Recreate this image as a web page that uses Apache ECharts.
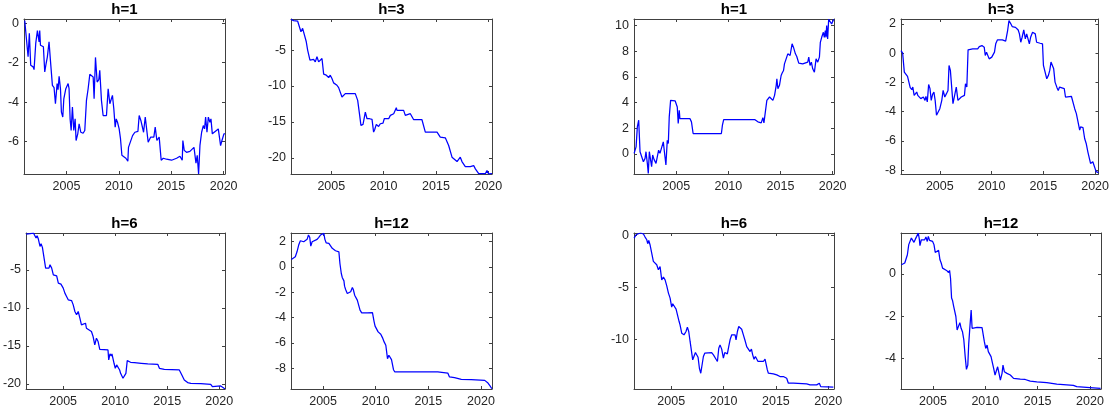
<!DOCTYPE html>
<html>
<head>
<meta charset="utf-8">
<title>Cumulative differences by horizon</title>
<script src="https://cdn.jsdelivr.net/npm/echarts@6/dist/echarts.min.js"></script>
<style>
  html, body { margin: 0; padding: 0; background: #ffffff; }
  #chart { width: 1112px; height: 412px; }
</style>
</head>
<body>
<div id="chart"></div>
<script>
// Horizon labels for the four panels of each block
const horizonTitles = ['h=1', 'h=3', 'h=6', 'h=12'];

// Year tick labels shared by every panel
const yearTicks = [2005, 2010, 2015, 2020];

// ---- Block A (left) ----
const yearsA1 = [2001.02,2001.15,2001.34,2001.46,2001.59,2001.82,2001.91,2002.07,2002.23,2002.39,2002.45,2002.52,2002.71,2002.80,2002.93,2003.06,2003.18,2003.34,2003.47,2003.66,2003.82,2003.95,2004.11,2004.20,2004.30,2004.43,2004.52,2004.65,2004.75,2004.94,2005.16,2005.25,2005.35,2005.45,2005.57,2005.70,2005.83,2005.92,2006.08,2006.21,2006.37,2006.59,2006.75,2006.91,2007.07,2007.23,2007.42,2007.55,2007.64,2007.77,2007.93,2008.09,2008.18,2008.34,2008.50,2008.82,2008.98,2009.14,2009.30,2009.39,2009.52,2009.65,2009.75,2009.87,2010.03,2010.16,2010.29,2010.48,2010.67,2010.86,2010.92,2011.11,2011.31,2011.53,2011.82,2011.94,2012.10,2012.23,2012.36,2012.52,2012.80,2013.03,2013.34,2013.47,2013.63,2013.85,2014.04,2014.24,2014.55,2015.03,2015.51,2015.83,2016.05,2016.11,2016.24,2016.46,2016.78,2016.94,2017.17,2017.36,2017.48,2017.61,2017.74,2017.90,2018.06,2018.18,2018.28,2018.41,2018.54,2018.69,2018.79,2018.92,2019.49,2019.71,2019.84,2020.03,2020.12];
const valuesA1 = [0.14,0.2,-1.70,-0.51,-2.13,-2.21,-2.35,-1.02,-0.37,-0.94,-0.37,-1.11,-1.02,-1.19,-2.47,-2.04,-1.70,-0.94,-1.87,-3.15,-3.27,-4.08,-3.06,-3.37,-2.69,-3.32,-4.51,-4.76,-3.83,-3.32,-3.06,-3.32,-4.85,-5.44,-4.25,-5.44,-4.85,-5.95,-5.61,-5.10,-5.53,-5.58,-5.44,-3.91,-3.32,-2.59,-2.69,-2.72,-3.83,-1.73,-2.98,-2.86,-2.38,-3.91,-4.68,-4.68,-3.32,-4.08,-4.00,-3.66,-4.34,-5.27,-4.85,-5.02,-5.36,-5.87,-6.70,-6.80,-6.85,-7.00,-6.30,-6.35,-5.70,-5.53,-5.49,-4.68,-4.93,-4.85,-5.53,-4.76,-6.04,-5.78,-5.78,-5.27,-5.95,-5.78,-6.95,-6.85,-6.90,-6.95,-6.85,-6.75,-6.95,-5.95,-6.45,-6.55,-6.50,-6.60,-6.30,-7.10,-6.70,-7.65,-6.20,-5.53,-5.19,-5.36,-4.76,-5.53,-4.76,-5.02,-4.85,-5.61,-5.36,-6.21,-5.95,-5.61,-5.60];

const yearsA3 = [2001.15,2001.40,2001.56,2001.78,2001.97,2002.10,2002.26,2002.42,2002.61,2002.74,2002.83,2002.96,2003.15,2003.31,2003.47,2003.63,2003.79,2003.95,2004.11,2004.20,2004.27,2004.52,2004.75,2004.90,2005.06,2005.22,2005.54,2005.70,2005.86,2006.02,2006.18,2006.34,2006.50,2006.82,2007.29,2007.39,2007.52,2007.71,2007.83,2008.03,2008.25,2008.41,2008.66,2008.89,2009.04,2009.14,2009.30,2009.52,2009.68,2009.94,2010.06,2010.25,2010.48,2010.64,2010.80,2010.96,2011.11,2011.21,2011.27,2011.43,2011.91,2012.07,2012.23,2012.55,2012.71,2012.87,2013.34,2013.66,2013.98,2015.10,2015.41,2015.89,2016.21,2016.53,2017.01,2017.32,2017.48,2017.64,2017.80,2018.28,2018.60,2018.76,2019.08,2019.71,2019.87,2020.03,2020.35];
const valuesA3 = [-0.72,-0.90,-1.04,-0.95,-1.04,-2.44,-1.97,-2.21,-3.84,-5.00,-4.77,-6.40,-6.40,-6.30,-6.63,-5.93,-6.63,-6.40,-6.16,-6.30,-8.35,-8.49,-8.82,-8.49,-8.96,-9.56,-9.89,-10.22,-10.36,-11.52,-11.29,-11.05,-10.96,-11.05,-11.05,-10.96,-11.99,-14.08,-15.48,-15.34,-13.62,-14.55,-14.55,-14.64,-16.41,-16.09,-15.34,-15.62,-15.25,-15.15,-14.55,-14.41,-14.55,-14.08,-14.32,-13.85,-13.62,-13.01,-13.38,-13.38,-13.38,-14.08,-13.85,-13.85,-14.08,-14.69,-14.69,-14.69,-16.41,-16.41,-17.11,-17.20,-18.27,-19.90,-20.51,-19.90,-20.51,-20.28,-21.21,-21.21,-21.07,-21.53,-22.20,-22.20,-21.77,-22.22,-22.20];

const yearsA6 = [2001.45,2001.83,2002.15,2002.31,2002.40,2002.50,2002.62,2002.78,2002.88,2003.01,2003.17,2003.32,2003.42,2003.64,2003.74,2003.90,2004.06,2004.22,2004.38,2004.54,2004.79,2005.01,2005.17,2005.33,2005.49,2005.81,2005.97,2006.13,2006.29,2006.45,2006.61,2006.76,2006.92,2007.15,2007.24,2007.40,2007.72,2007.88,2008.04,2008.20,2008.36,2008.52,2008.68,2009.31,2009.38,2009.50,2009.63,2009.69,2009.89,2010.01,2010.14,2010.27,2010.43,2010.52,2010.75,2010.90,2011.03,2011.16,2011.29,2011.48,2011.86,2012.50,2013.13,2014.09,2014.25,2014.72,2016.16,2016.32,2016.64,2016.96,2017.27,2018.23,2019.18,2019.34,2019.50,2020.14,2020.46,2020.55];
const valuesA6 = [-0.31,-0.26,-0.18,-0.26,-0.83,-0.53,-0.96,-1.93,-1.58,-2.06,-2.15,-4.78,-4.69,-4.78,-4.34,-4.78,-5.66,-5.53,-5.79,-6.75,-6.89,-7.41,-8.07,-8.51,-8.95,-9.04,-9.61,-10.48,-10.92,-10.48,-11.36,-12.24,-12.37,-12.02,-12.68,-12.89,-13.11,-13.77,-14.87,-13.99,-14.43,-15.44,-15.53,-15.53,-16.84,-16.05,-16.32,-16.05,-17.28,-17.94,-17.50,-17.72,-18.16,-18.60,-19.25,-19.25,-18.60,-16.93,-16.84,-17.15,-17.19,-17.28,-17.37,-17.41,-17.94,-18.07,-18.16,-18.60,-19.47,-19.82,-19.91,-19.96,-20.04,-20.35,-20.13,-20.26,-20.57,-20.62];

const yearsA12 = [2001.98,2002.14,2002.36,2002.52,2002.68,2002.84,2003.00,2003.16,2003.32,2003.48,2003.61,2003.73,2003.83,2003.96,2004.11,2004.43,2004.59,2004.69,2004.75,2004.91,2005.07,2005.17,2005.29,2005.55,2005.64,2005.87,2006.18,2006.34,2006.50,2006.60,2006.73,2006.82,2006.98,2007.04,2007.14,2007.30,2007.46,2007.62,2007.78,2007.87,2008.00,2008.13,2008.25,2008.35,2008.51,2008.67,2009.21,2009.69,2009.85,2009.94,2010.10,2010.23,2010.32,2010.48,2010.64,2010.80,2010.96,2011.12,2011.25,2011.38,2011.50,2011.69,2011.82,2015.90,2016.85,2017.01,2017.49,2018.13,2019.08,2020.36,2020.67,2020.83,2021.04];
const valuesA12 = [0.58,0.53,0.79,1.18,1.71,2.05,2.11,1.97,1.89,2.16,2.50,2.32,1.63,1.97,2.11,2.16,2.32,2.24,2.50,2.58,2.63,2.16,1.89,1.84,1.71,1.45,1.26,1.32,1.18,0.26,-0.53,-0.84,-1.11,-1.53,-1.79,-2.11,-2.05,-1.97,-1.63,-1.79,-2.24,-2.24,-2.63,-2.76,-3.42,-3.63,-3.63,-3.61,-4.34,-4.68,-4.68,-5.13,-5.26,-5.32,-5.58,-5.92,-6.18,-7.24,-6.97,-7.11,-7.32,-8.11,-8.29,-8.29,-8.37,-8.68,-8.74,-8.87,-8.89,-8.95,-9.16,-9.34,-9.61];

// ---- Block B (right) ----
const yearsB1 = [2000.96,2001.05,2001.15,2001.27,2001.40,2001.53,2001.69,2001.85,2002.01,2002.10,2002.23,2002.32,2002.42,2002.55,2002.64,2002.74,2002.87,2003.06,2003.18,2003.31,2003.44,2003.60,2003.76,2003.92,2004.01,2004.14,2004.24,2004.33,2004.46,2004.65,2004.90,2005.10,2005.19,2005.29,2005.35,2005.51,2006.31,2006.46,2006.62,2006.94,2009.33,2009.43,2009.55,2009.81,2012.52,2012.83,2013.15,2013.31,2013.41,2013.57,2013.69,2013.79,2013.95,2014.11,2014.27,2014.43,2014.59,2014.65,2014.75,2014.90,2015.06,2015.16,2015.29,2015.38,2015.54,2015.70,2015.80,2015.92,2016.11,2016.24,2016.43,2016.56,2016.75,2017.13,2017.61,2017.71,2017.83,2017.96,2018.09,2018.25,2018.41,2018.57,2018.73,2018.82,2018.95,2019.11,2019.20,2019.30,2019.36,2019.43,2019.52,2019.62,2019.75,2019.90,2020.10];
const valuesB1 = [0.03,-0.10,0.54,2.10,2.62,0.16,0.03,-0.62,-0.36,0.16,-0.75,-1.53,0.16,0.03,-1.01,-0.10,-0.44,-0.75,-0.75,0.28,0.03,0.16,0.93,-0.23,-0.88,1.06,0.80,2.88,4.17,4.17,4.12,3.65,2.36,3.39,2.75,2.75,2.75,2.49,1.58,1.58,1.58,2.23,2.67,2.67,2.67,2.49,2.41,2.82,2.41,2.36,4.17,4.30,4.43,4.56,4.17,4.56,5.34,5.85,5.08,5.34,6.11,6.30,6.50,7.02,6.89,7.80,7.93,7.67,8.58,8.32,7.80,7.59,7.07,7.02,7.15,7.54,6.89,7.15,6.63,6.37,7.41,7.15,7.54,8.70,9.09,9.48,9.09,9.61,9.09,10.00,8.96,10.50,10.39,10.13,10.50];

const yearsB3 = [2001.25,2001.41,2001.57,2001.76,2001.88,2002.01,2002.14,2002.30,2002.39,2002.52,2002.65,2002.77,2002.87,2003.00,2003.16,2003.25,2003.41,2003.57,2003.66,2003.79,2003.92,2004.05,2004.17,2004.30,2004.43,2004.55,2004.68,2004.81,2005.00,2005.19,2005.32,2005.48,2005.64,2005.79,2005.89,2006.02,2006.14,2006.27,2006.40,2006.59,2006.75,2006.91,2007.07,2007.23,2007.38,2007.48,2007.61,2007.73,2008.18,2008.66,2008.81,2009.07,2009.29,2009.39,2009.51,2009.64,2009.77,2009.93,2010.02,2010.15,2010.28,2010.40,2010.56,2011.04,2011.36,2011.45,2011.55,2011.68,2011.83,2011.99,2012.31,2012.57,2012.69,2012.82,2012.95,2013.11,2013.26,2013.39,2013.52,2013.65,2013.77,2013.96,2014.09,2014.22,2014.35,2014.69,2014.92,2015.01,2015.17,2015.33,2015.49,2015.62,2015.74,2015.87,2016.00,2016.13,2016.32,2016.44,2016.57,2016.76,2017.02,2017.14,2017.71,2017.90,2018.03,2018.19,2018.35,2018.51,2018.60,2018.83,2018.99,2019.14,2019.30,2019.40,2019.56,2019.78,2019.94,2020.10,2020.32];
const valuesB3 = [0.18,0.00,-1.30,-1.36,-1.59,-1.64,-2.36,-2.50,-2.32,-2.89,-3.00,-2.66,-2.89,-2.77,-3.11,-3.00,-3.00,-3.23,-2.95,-3.34,-2.14,-2.43,-3.23,-2.82,-2.66,-3.23,-4.25,-4.25,-3.80,-3.23,-2.55,-3.00,-2.77,-2.55,-0.84,-1.18,-1.30,-3.45,-3.34,-2.32,-3.23,-3.34,-3.00,-2.89,-2.89,-2.09,-2.32,0.23,0.30,0.30,0.45,0.52,0.41,-0.16,0.07,0.00,-0.39,-0.39,-0.27,-0.39,0.07,0.64,0.91,0.91,0.82,0.75,1.55,2.23,2.05,1.82,1.77,1.59,1.32,0.75,1.09,1.59,0.98,1.32,1.36,0.64,1.09,1.43,1.50,1.32,0.75,0.68,0.64,-0.84,-0.91,-1.75,-1.52,-1.18,-0.61,-0.55,-1.07,-1.98,-2.36,-2.55,-2.32,-2.43,-2.43,-3.00,-2.95,-2.84,-3.80,-4.14,-4.25,-5.27,-5.05,-5.09,-5.84,-6.18,-6.75,-6.64,-7.55,-7.43,-7.55,-8.11,-8.18];

const yearsB6 = [2001.45,2001.64,2001.86,2002.08,2002.34,2002.50,2002.66,2002.75,2002.85,2002.97,2003.13,2003.29,2003.45,2003.61,2003.77,2003.93,2004.09,2004.25,2004.41,2004.57,2004.73,2004.89,2005.04,2005.14,2005.30,2005.46,2005.59,2005.75,2005.84,2006.00,2006.22,2006.41,2006.54,2006.67,2006.80,2006.92,2007.05,2007.18,2007.31,2007.43,2007.56,2007.69,2007.82,2007.94,2008.07,2008.20,2008.39,2008.86,2009.03,2009.18,2009.28,2009.41,2009.54,2009.66,2009.82,2009.98,2010.11,2010.24,2010.36,2010.49,2010.62,2010.78,2010.94,2011.10,2011.19,2011.32,2011.45,2011.57,2011.73,2011.89,2012.05,2012.21,2012.37,2012.53,2012.66,2012.78,2012.91,2013.04,2013.17,2013.29,2013.48,2013.80,2013.96,2014.06,2014.18,2014.28,2014.44,2014.76,2015.08,2015.39,2015.71,2016.03,2016.19,2016.67,2017.94,2018.26,2018.90,2019.06,2019.15,2019.28,2020.49,2020.55];
const valuesB6 = [-0.26,0.06,0.16,0.23,0.13,-0.16,-0.42,-0.80,-0.48,-0.90,-1.06,-2.50,-2.35,-2.83,-3.31,-3.00,-4.28,-4.02,-4.28,-4.86,-5.56,-6.04,-6.91,-6.59,-6.78,-7.10,-7.17,-8.30,-8.62,-9.42,-9.58,-9.26,-8.84,-9.26,-10.22,-10.39,-11.99,-12.06,-11.29,-11.19,-11.74,-12.80,-13.28,-13.12,-11.67,-11.35,-11.35,-11.29,-11.51,-11.45,-11.93,-12.15,-10.87,-10.55,-10.96,-11.83,-11.29,-11.19,-11.42,-10.71,-10.06,-9.58,-9.74,-9.58,-10.06,-9.26,-8.78,-8.94,-9.04,-9.58,-10.13,-10.71,-10.77,-11.19,-10.96,-11.51,-11.93,-11.67,-11.51,-12.15,-12.15,-12.15,-11.93,-11.83,-12.96,-13.28,-13.34,-13.34,-13.44,-13.60,-13.60,-13.76,-14.24,-14.24,-14.31,-14.40,-14.40,-14.57,-14.24,-14.57,-14.63,-14.65];

const yearsB12 = [2001.99,2002.18,2002.31,2002.43,2002.56,2002.69,2002.81,2002.94,2003.07,2003.19,2003.32,2003.45,2003.60,2003.70,2003.76,2003.89,2004.02,2004.21,2004.33,2004.46,2004.56,2004.68,2004.84,2004.97,2005.10,2005.22,2005.35,2005.54,2005.67,2005.79,2005.92,2006.11,2006.30,2006.49,2006.59,2006.68,2006.78,2006.87,2006.97,2007.06,2007.19,2007.31,2007.44,2007.57,2007.69,2007.82,2007.95,2008.08,2008.20,2008.33,2008.42,2008.52,2008.65,2008.74,2008.84,2009.22,2009.69,2009.79,2009.91,2010.04,2010.17,2010.29,2010.42,2010.55,2010.68,2010.80,2010.93,2011.06,2011.18,2011.31,2011.44,2011.60,2011.69,2011.82,2011.94,2012.07,2012.39,2012.70,2013.34,2013.81,2014.29,2014.92,2015.87,2016.83,2018.41,2018.73,2019.99,2021.01];
const valuesB12 = [0.43,0.43,0.51,0.58,0.90,1.38,1.45,1.69,1.74,1.49,1.64,1.77,1.93,1.64,1.33,1.61,1.61,1.61,1.74,1.53,1.77,1.58,1.64,1.53,1.38,1.01,1.06,1.11,0.66,0.51,0.27,0.22,0.16,0.06,0.16,-0.21,-1.15,-1.26,-1.52,-1.47,-2.02,-2.66,-2.58,-2.31,-2.58,-2.74,-3.13,-3.92,-4.52,-4.32,-3.29,-2.58,-1.71,-2.58,-2.53,-2.53,-2.55,-2.58,-3.21,-3.53,-3.37,-3.68,-3.64,-3.92,-4.21,-4.47,-4.79,-4.71,-4.40,-4.71,-5.03,-4.71,-4.32,-4.63,-4.63,-4.71,-4.79,-4.95,-4.98,-5.00,-5.08,-5.11,-5.15,-5.22,-5.28,-5.34,-5.38,-5.42];

// Value-axis ticks for each panel (A1, A3, A6, A12, B1, B3, B6, B12)
const valueTicks = [
  [-6, -4, -2, 0],
  [-20, -15, -10, -5],
  [-20, -15, -10, -5],
  [-8, -6, -4, -2, 0, 2],
  [0, 2, 4, 6, 8, 10],
  [-8, -6, -4, -2, 0, 2],
  [-10, -5, 0],
  [-4, -2, 0]
];

// Axis limits (tight around each series)
const yearLimits = [
  [2000.95, 2020.13], [2001.15, 2020.35], [2001.44, 2020.55], [2001.95, 2021.05],
  [2000.95, 2020.13], [2001.25, 2020.33], [2001.44, 2020.55], [2001.95, 2021.05]
];
const valueLimits = [
  [-7.65, 0.22], [-22.24, -0.67], [-20.66, -0.17], [-9.63, 2.66],
  [-1.58, 10.52], [-8.27, 2.34], [-14.8, 0.23], [-5.45, 1.93]
];

const seriesYears = [yearsA1, yearsA3, yearsA6, yearsA12, yearsB1, yearsB3, yearsB6, yearsB12];
const seriesValues = [valuesA1, valuesA3, valuesA6, valuesA12, valuesB1, valuesB3, valuesB6, valuesB12];
const panelTitles = [...horizonTitles, ...horizonTitles];

// Panel boxes in pixels: [left, top, width, height]
const panelBoxes = [
  [24, 19, 201, 155], [291, 19, 201, 155], [24, 233, 201, 156], [291, 233, 201, 156],
  [634, 19, 200, 155], [901, 19, 200, 155], [634, 233, 200, 156], [901, 233, 200, 156]
];

const axisColor = '#404040';
const labelColor = '#262626';
const fontFamily = '"Liberation Sans", Arial, Helvetica, sans-serif';

const grid = [], xAxis = [], yAxis = [], series = [], title = [];

panelBoxes.forEach((box, i) => {
  const [left, top, width, height] = box;
  grid.push({ left, top, width, height, containLabel: false });

  const lineCfg = { show: true, onZero: false, lineStyle: { color: axisColor, width: 1 } };
  const xTick = { show: true, inside: true, length: 3, customValues: yearTicks, lineStyle: { color: axisColor } };
  const yTick = { show: true, inside: true, length: 3, customValues: valueTicks[i], lineStyle: { color: axisColor } };

  // bottom year axis with labels
  xAxis.push({
    type: 'value', gridIndex: i, position: 'bottom',
    min: yearLimits[i][0], max: yearLimits[i][1],
    axisLine: lineCfg, axisTick: xTick, splitLine: { show: false },
    axisLabel: { show: true, customValues: yearTicks, color: labelColor, fontSize: 12.5,
                 fontFamily, margin: 6, formatter: v => String(v) }
  });
  // top edge of the box
  xAxis.push({
    type: 'value', gridIndex: i, position: 'top',
    min: yearLimits[i][0], max: yearLimits[i][1],
    axisLine: lineCfg, axisTick: xTick, splitLine: { show: false },
    axisLabel: { show: false }
  });
  // left value axis with labels
  yAxis.push({
    type: 'value', gridIndex: i, position: 'left',
    min: valueLimits[i][0], max: valueLimits[i][1],
    axisLine: lineCfg, axisTick: yTick, splitLine: { show: false },
    axisLabel: { show: true, customValues: valueTicks[i], color: labelColor, fontSize: 12.5,
                 fontFamily, margin: 5, formatter: v => String(v) }
  });
  // right edge of the box
  yAxis.push({
    type: 'value', gridIndex: i, position: 'right',
    min: valueLimits[i][0], max: valueLimits[i][1],
    axisLine: lineCfg, axisTick: yTick, splitLine: { show: false },
    axisLabel: { show: false }
  });

  series.push({
    type: 'line',
    xAxisIndex: i * 2, yAxisIndex: i * 2,
    data: seriesYears[i].map((yr, k) => [yr, seriesValues[i][k]]),
    showSymbol: false, symbol: 'none',
    lineStyle: { color: '#0000ff', width: 1.25 },
    clip: true, silent: true
  });

  title.push({
    text: panelTitles[i],
    left: left + width / 2, top: top - 17, textAlign: 'center', padding: 0,
    textStyle: { fontSize: 15, fontWeight: 'bold', color: '#000000', fontFamily }
  });
});

const chart = echarts.init(document.getElementById('chart'), null, { renderer: 'canvas' });
chart.setOption({
  animation: false,
  backgroundColor: '#ffffff',
  title, grid, xAxis, yAxis, series
});
</script>
</body>
</html>
